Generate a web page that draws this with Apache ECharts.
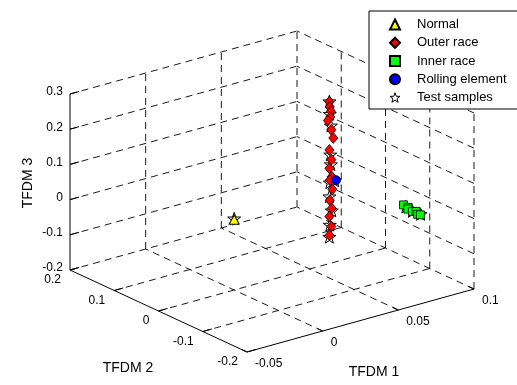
<!DOCTYPE html>
<html><head><meta charset="utf-8">
<script src="https://cdn.jsdelivr.net/npm/echarts@6/dist/echarts.min.js"></script>
<style>html,body{margin:0;padding:0;background:#fff}#c{width:517px;height:385px}</style>
</head><body><div id="c"></div><script>
// ---- axis ticks ----
const xTicks = [-0.05, 0, 0.05, 0.1];
const xTickLabels = ['-0.05', '0', '0.05', '0.1'];
const yTicks = [-0.2, -0.1, 0, 0.1, 0.2];
const yTickLabels = ['-0.2', '-0.1', '0', '0.1', '0.2'];
const zTicks = [-0.2, -0.1, 0, 0.1, 0.2, 0.3];
const zTickLabels = ['-0.2', '-0.1', '0', '0.1', '0.2', '0.3'];
const axisNames = ['TFDM 1', 'TFDM 2', 'TFDM 3'];

// ---- data (TFDM 1, TFDM 2, TFDM 3) ----
const normalX = [0.000];
const normalY = [0.000];
const normalZ = [0.000];

const outerX = [0.060, 0.060, 0.061, 0.060, 0.059, 0.061, 0.062, 0.060, 0.061, 0.060, 0.061, 0.060, 0.062, 0.060, 0.061, 0.060, 0.061, 0.060];
const outerY = [-0.010, -0.011, -0.010, -0.012, -0.010, -0.011, -0.012, -0.010, -0.011, -0.010, -0.012, -0.011, -0.010, -0.011, -0.012, -0.010, -0.011, -0.010];
const outerZ = [0.269, 0.255, 0.241, 0.227, 0.217, 0.189, 0.165, 0.132, 0.104, 0.080, 0.056, 0.047, 0.018, -0.010, -0.034, -0.057, -0.086, -0.110];

const innerX = [0.090, 0.091, 0.089, 0.090, 0.091, 0.090, 0.090];
const innerY = [-0.075, -0.082, -0.088, -0.095, -0.100, -0.107, -0.113];
const innerZ = [-0.022, -0.026, -0.025, -0.029, -0.027, -0.030, -0.028];

const rollX = [0.060];
const rollY = [-0.025];
const rollZ = [0.055];

const testX = [0.000, 0.060, 0.060, 0.061, 0.060, 0.061, 0.060, 0.060, 0.061, 0.060, 0.060, 0.090, 0.090, 0.091, 0.060];
const testY = [0.000, -0.010, -0.011, -0.010, -0.012, -0.010, -0.011, -0.010, -0.012, -0.011, -0.010, -0.080, -0.095, -0.110, -0.022];
const testZ = [0.003, 0.270, 0.235, 0.200, 0.120, 0.090, 0.040, 0.000, -0.040, -0.080, -0.115, -0.024, -0.028, -0.029, 0.052];

// ---- projection layout ----
const XR = [-0.05, 0.1], YR = [-0.2, 0.2], ZR = [-0.2, 0.3];
const ORG = [70, 270], VX = [227, -63], VY = [177, 82], VZ = [0, -176];
function proj(x, y, z) {
  const a = (x - XR[0]) / (XR[1] - XR[0]);
  const b = (YR[1] - y) / (YR[1] - YR[0]);
  const c = (z - ZR[0]) / (ZR[1] - ZR[0]);
  return [ORG[0] + a * VX[0] + b * VY[0] + c * VZ[0], ORG[1] + a * VX[1] + b * VY[1] + c * VZ[1]];
}
function pts(xs, ys, zs) { return xs.map((x, i) => proj(x, ys[i], zs[i])); }

// ---- frame segments ----
const segs = [];
function seg(p, q, dashed) { const A = proj(...p), B = proj(...q); segs.push([A[0], A[1], B[0], B[1], dashed ? 1 : 0]); }
const [x0, x1] = XR, [y0, y1] = YR, [z0, z1] = ZR;
// floor
yTicks.forEach(y => { if (y !== y0) seg([x0, y, z0], [x1, y, z0], true); });
xTicks.forEach(x => { if (x !== x0) seg([x, y0, z0], [x, y1, z0], true); });
// back-left wall (y = ymax)
zTicks.forEach(z => { if (z !== z0) seg([x0, y1, z], [x1, y1, z], true); });
xTicks.forEach(x => { if (x !== x0) seg([x, y1, z0], [x, y1, z1], true); });
// back-right wall (x = xmax)
zTicks.forEach(z => { if (z !== z0) seg([x1, y0, z], [x1, y1, z], true); });
yTicks.forEach(y => { if (y !== y1) seg([x1, y, z0], [x1, y, z1], true); });
// solid axes
seg([x0, y1, z0], [x0, y1, z1], false);
seg([x0, y1, z0], [x0, y0, z0], false);
seg([x0, y0, z0], [x1, y0, z0], false);
// tick marks
const tx = 0.006, ty = 0.012;
xTicks.forEach(x => seg([x, y0, z0], [x, y0 + ty, z0], false));
yTicks.forEach(y => seg([x0, y, z0], [x0 + tx, y, z0], false));
zTicks.forEach(z => seg([x0, y1, z], [x0 + tx, y1, z], false));

// ---- text labels ----
const FONT = "'Liberation Sans', Arial, Helvetica, sans-serif";
const texts = [];
xTicks.forEach((x, i) => { const p = proj(x, y0, z0); texts.push({ p: [p[0] + 8, p[1] + 12], t: xTickLabels[i], a: 'left' }); });
yTicks.forEach((y, i) => { const p = proj(x0, y, z0); texts.push({ p: [p[0] - 9, p[1] + 10], t: yTickLabels[i], a: 'right' }); });
zTicks.forEach((z, i) => { const p = proj(x0, y1, z); texts.push({ p: [p[0] - 7, p[1] - 2], t: zTickLabels[i], a: 'right' }); });

const STAR = 'path://M0,-10L2.35,-3.24L9.51,-3.09L3.8,1.24L5.88,8.09L0,4.2L-5.88,8.09L-3.8,1.24L-9.51,-3.09L-2.35,-3.24Z';
const starStyle = { color: '#fff', borderColor: '#000', borderWidth: 1, opacity: 1 };

const chart = echarts.init(document.getElementById('c'), null, { renderer: 'canvas' });
chart.setOption({
  animation: false,
  backgroundColor: '#fff',
  grid: { left: 0, top: 0, width: 517, height: 385 },
  xAxis: { type: 'value', min: 0, max: 517, show: false },
  yAxis: { type: 'value', min: 0, max: 385, inverse: true, show: false },
  legend: {
    data: ['Normal', 'Outer race', 'Inner race', 'Rolling element',
      { name: 'Test samples', itemStyle: starStyle }],
    orient: 'vertical', left: 369, top: 11,
    padding: [7, 11, 5, 20], itemGap: 5.25, itemWidth: 10, itemHeight: 10,
    borderColor: '#000', borderWidth: 1, borderRadius: 0, backgroundColor: '#fff',
    selectedMode: false,
    textStyle: { fontSize: 13, fontFamily: FONT, color: '#000', padding: [0, 0, 0, 12] }
  },
  graphic: [
    { type: 'text', x: 374, y: 372, style: { text: axisNames[0], font: '14px ' + FONT, fill: '#000', align: 'center', verticalAlign: 'middle' } },
    { type: 'text', x: 128, y: 368, style: { text: axisNames[1], font: '14px ' + FONT, fill: '#000', align: 'center', verticalAlign: 'middle' } },
    { type: 'text', x: 28, y: 183, rotation: Math.PI / 2, style: { text: axisNames[2], font: '14px ' + FONT, fill: '#000', align: 'center', verticalAlign: 'middle' } }
  ],
  series: [
    {
      type: 'custom', name: 'frame', silent: true, z: 1,
      encode: { x: [0, 2], y: [1, 3] }, clip: false,
      data: segs,
      renderItem(params, api) {
        const p = api.coord([api.value(0), api.value(1)]);
        const q = api.coord([api.value(2), api.value(3)]);
        const d = api.value(4) === 1;
        return { type: 'line', shape: { x1: p[0], y1: p[1], x2: q[0], y2: q[1] },
          style: { stroke: '#000', lineWidth: d ? 0.9 : 1, lineDash: d ? [7, 5] : null } };
      }
    },
    {
      type: 'custom', name: 'ticklabels', silent: true, z: 1, clip: false,
      data: texts.map(o => o.p),
      renderItem(params, api) {
        const o = texts[params.dataIndex];
        const p = api.coord([api.value(0), api.value(1)]);
        return { type: 'text', x: p[0], y: p[1],
          style: { text: o.t, font: '12px ' + FONT, fill: '#000', align: o.a, verticalAlign: 'middle' } };
      }
    },
    { type: 'scatter', name: 'Test samples', z: 3, symbol: STAR, symbolKeepAspect: true, symbolSize: 13,
      itemStyle: starStyle, data: pts(testX, testY, testZ) },
    { type: 'scatter', name: 'Normal', z: 4, symbol: 'triangle', symbolSize: [10, 9],
      itemStyle: { color: '#ffff00', borderColor: '#000', borderWidth: 1, opacity: 1 }, data: pts(normalX, normalY, normalZ) },
    { type: 'scatter', name: 'Outer race', z: 4, symbol: 'diamond', symbolSize: [9, 11],
      itemStyle: { color: '#ff0000', borderColor: '#000', borderWidth: 0.8, opacity: 1 }, data: pts(outerX, outerY, outerZ) },
    { type: 'scatter', name: 'Inner race', z: 4, symbol: 'rect', symbolSize: 8,
      itemStyle: { color: '#00ff00', borderColor: '#000', borderWidth: 0.8, opacity: 1 }, data: pts(innerX, innerY, innerZ) },
    { type: 'scatter', name: 'Rolling element', z: 4, symbol: 'circle', symbolSize: 9,
      itemStyle: { color: '#0000ff', borderColor: '#000', borderWidth: 0.8, opacity: 1 }, data: pts(rollX, rollY, rollZ) }
  ]
});
</script></body></html>
